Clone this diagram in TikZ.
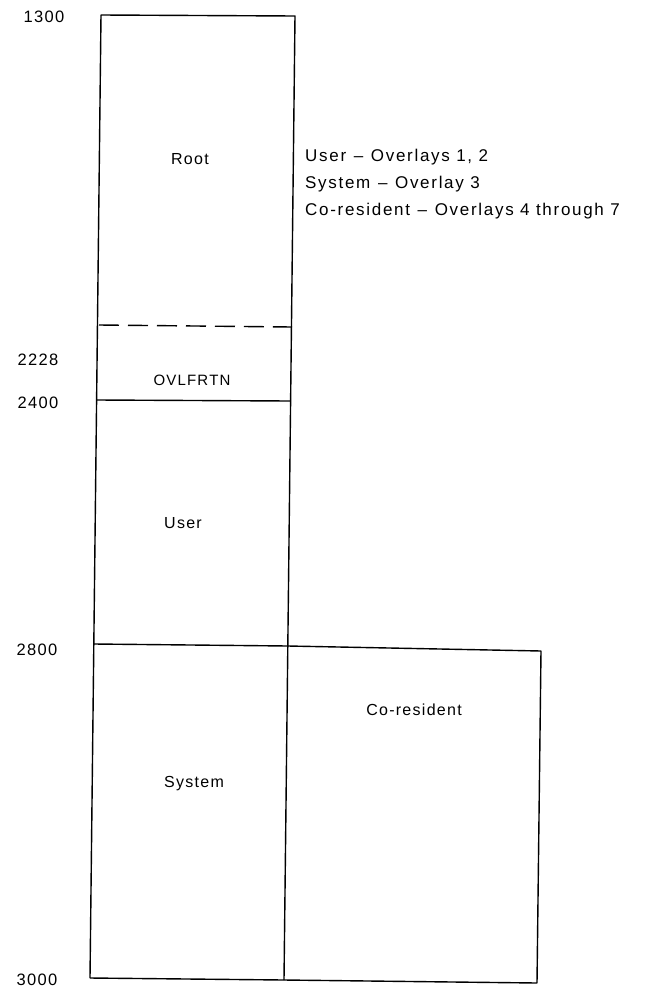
\documentclass[tikz,border=0pt]{standalone}
\usepackage{fontspec}
\setmainfont{Liberation Sans}
\newfontfamily\lblfont[LetterSpace=8]{Liberation Sans}
\newfontfamily\legfont[LetterSpace=10]{Liberation Sans}
\newcommand{\dsh}{\hspace{0.45em}–\hspace{0.45em}}
\begin{document}
\begin{tikzpicture}[x=1pt,y=-1pt,
  edge/.style={line width=1.4pt,line join=round},
  lbl/.style={font=\lblfont\fontsize{16}{18}\selectfont,inner sep=0pt},
  leg/.style={font=\legfont\fontsize{17}{19}\selectfont,inner sep=0pt,anchor=west},
  addr/.style={font=\lblfont\fontsize{16.5}{18}\selectfont,inner sep=0pt}]
\useasboundingbox (0,0) rectangle (649,988);
% corners
\coordinate (tl) at (101,15);
\coordinate (tr) at (295,16);
\coordinate (dl) at (99,325);
\coordinate (dr) at (292,327);
\coordinate (al) at (97,400);
\coordinate (ar) at (290,401);
\coordinate (bl) at (94,644);
\coordinate (bm) at (288,646);
\coordinate (br) at (541,651);
\coordinate (el) at (90,978);
\coordinate (em) at (284,980);
\coordinate (er) at (537,983);
% outline
\draw[edge] (el) -- (tl) -- (tr) -- (em);
\draw[edge] (bl) -- (bm) -- (br) -- (er) -- (em) -- (el);
\draw[edge] (al) -- (ar);
\draw[edge,dash pattern=on 20pt off 9pt] (dl) -- (dr);
% region labels
\node[lbl] (root) at (190,159) {Root};
\node[lbl,font=\lblfont\fontsize{15}{17}\selectfont] (ovl) at (192,380) {OVLFRTN};
\node[lbl] (user) at (183,523) {User};
\node[lbl] (cores) at (414,710) {Co-resident};
\node[lbl] (sys) at (194,784) {System};
% legend
\node[leg] (l1) at (305,157) {User\dsh{}Overlays 1, 2};
\node[leg] (l2) at (305,184) {System\dsh{}Overlay 3};
\node[leg] (l3) at (305,211) {Co-resident\dsh{}Overlays 4 through 7};
% addresses
\node[addr] (a1) at (44,17) {1300};
\node[addr] (a2) at (38,360) {2228};
\node[addr] (a3) at (38,403) {2400};
\node[addr] (a4) at (37,650) {2800};
\node[addr] (a5) at (37,980) {3000};
\end{tikzpicture}
\end{document}
